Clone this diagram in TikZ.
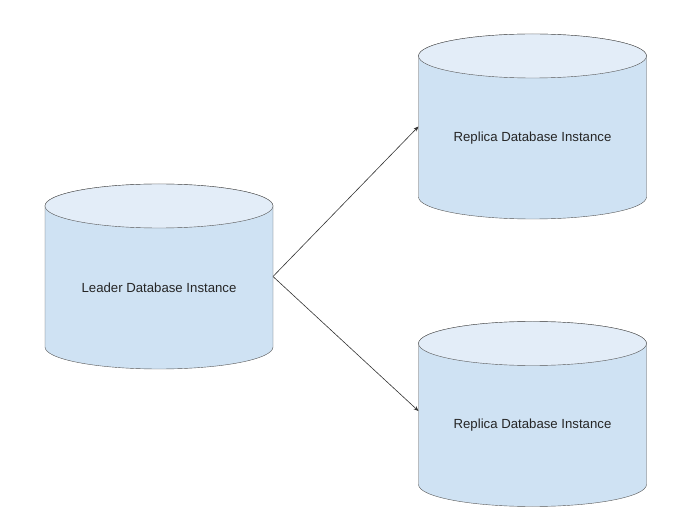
\documentclass[tikz,border=0pt]{standalone}
\usepackage{fontspec}
\setmainfont{Liberation Sans}
\usetikzlibrary{arrows.meta}
\definecolor{dbbody}{HTML}{CFE2F3}
\definecolor{dbtop}{HTML}{E3EDF8}
\definecolor{dbline}{HTML}{555555}
% cylinder drawn round a named box node
\newcommand{\dbshape}[1]{%
\filldraw[draw=dbline,fill=dbbody,thin]([yshift=-22pt]#1.north west)--([yshift=22pt]#1.south west)
  arc[start angle=180,end angle=360,x radius=114pt,y radius=22pt]--([yshift=-22pt]#1.north east)
  arc[start angle=0,end angle=180,x radius=114pt,y radius=22pt]--cycle;
\filldraw[draw=dbline,fill=dbtop,thin]([yshift=-22pt]#1.north)ellipse[x radius=114pt,y radius=22pt];}
\begin{document}
\begin{tikzpicture}[x=1pt,y=1pt]
\tikzstyle{db} = [rectangle,minimum width=228pt,minimum height=185pt,inner sep=0pt,outer sep=0pt] %database box
\tikzstyle{dbtext} = [font=\fontsize{13.2}{15}\selectfont,text=black!85] %label
\tikzstyle{rep} = [-{Stealth[length=5pt,width=4pt]},black!80,semithick] %replication
\useasboundingbox (0,0) rectangle (678,-521);
\node[db](leader)at(159,-276.5){};
\node[db](replA)at(532.5,-126.5){};
\node[db](replB)at(532.5,-414){};
\dbshape{leader}
\dbshape{replA}
\dbshape{replB}
\node[dbtext](leadertxt)at([yshift=-11.5pt]leader.center){Leader Database Instance};
\node[dbtext](replAtxt)at([yshift=-11.5pt]replA.center){Replica Database Instance};
\node[dbtext](replBtxt)at([yshift=-11.5pt]replB.center){Replica Database Instance};
\draw[rep](leader.east)--(replA.west);
\draw[rep](leader.east)--([yshift=3pt]replB.west);
\end{tikzpicture}
\end{document}
